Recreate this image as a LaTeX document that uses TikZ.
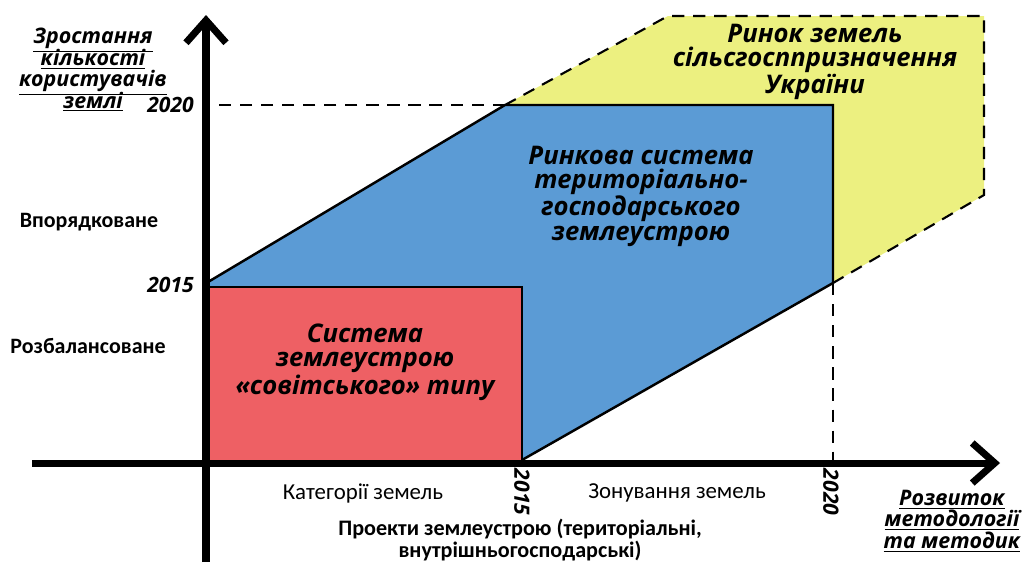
\documentclass[tikz,border=0pt]{standalone}
\usepackage{fontspec}
\setmainfont{Carlito}
\newfontfamily\itb{Open Sans}
\usetikzlibrary{arrows.meta}
\definecolor{fillR}{RGB}{238, 96, 100}
\definecolor{fillB}{RGB}{91, 155, 213}
\definecolor{fillY}{RGB}{236, 240, 128}
\newcommand\tightlines{\setlength{\lineskiplimit}{-20pt}}

\tikzset{
  axis/.style={line width=4pt, -{Straight Barb[length=4.5mm, width=8mm]}},
  edge/.style={line width=1.4pt},
  guide/.style={line width=1.2pt, dash pattern=on 7pt off 5pt},
  big/.style={font=\itb\fontsize{14.6}{13.8}\selectfont\bfseries\itshape, align=center},
  year/.style={font=\itb\fontsize{12}{12}\selectfont\bfseries\itshape},
  level/.style={font=\fontsize{12.5}{14}\selectfont\bfseries},
  note/.style={font=\fontsize{13}{13.5}\selectfont, align=center},
  title/.style={font=\tightlines\itb\fontsize{12.2}{12.2}\selectfont\bfseries\itshape, align=center}
}

\begin{document}
\begin{tikzpicture}[x=0.02cm, y=-0.02cm]
  \useasboundingbox (0,0) rectangle (1023,562);

  \coordinate (O) at (206,463);
  \coordinate (ytop) at (206,15);
  \coordinate (ybot) at (206,562);
  \coordinate (xleft) at (32,463);
  \coordinate (xright) at (1000,463);

  \coordinate (P) at (208,282);
  \coordinate (Q) at (505,105);
  \coordinate (R) at (833,105);
  \coordinate (S) at (833,283);
  \coordinate (T) at (522,460);
  \coordinate (U) at (668,16);
  \coordinate (V) at (984,16);
  \coordinate (W) at (984,195);
  \coordinate (A) at (208,287);
  \coordinate (B) at (522,287);
  \coordinate (C) at (208,460);

  % market of lands
  \path[fill=fillY] (Q) -- (U) -- (V) -- (W) -- (S) -- (R) -- cycle;
  \draw[guide] (Q) -- (U) -- (V) -- (W) -- (S);

  % market system
  \path[fill=fillB] (P) -- (Q) -- (R) -- (S) -- (T) -- (C) -- cycle;
  \draw[edge] (P) -- (Q) -- (R) -- (S) -- (T);

  % soviet system
  \path[fill=fillR] (A) rectangle (T);
  \draw[edge] (A) -- (B) -- (T);

  \draw[guide] (Q) -- (Q -| O);
  \draw[guide] (S) -- (S |- O);

  \draw[axis] (ybot) -- (ytop);
  \draw[axis] (xleft) -- (xright);

  \node[big] (soviet) at (365,362) {Система\\землеустрою\\«совітського» типу};
  \node[big] (market) at (641,196) {Ринкова система\\територіально-\\господарського\\землеустрою};
  \node[big] (land) at (815,62) {Ринок земель\\сільсгосппризначення\\України};

  \node[year, anchor=east] (y2020) at (200,105) {2020};
  \node[year, anchor=east] (y2015) at (200,285) {2015};
  \node[year, rotate=-90] (x2015) at (522,492) {2015};
  \node[year, rotate=-90] (x2020) at (831,492) {2020};

  \node[level] (order) at (89,222) {Впорядковане};
  \node[level] (chaos) at (88,346) {Розбалансоване};

  \node[note] (cat) at (363,493) {Категорії земель};
  \node[note] (zone) at (677,493) {Зонування земель};
  \node[note, font=\fontsize{12.6}{12.6}\selectfont\bfseries] (proj) at (520,540) {Проекти землеустрою (територіальні,\\внутрішньогосподарські)};

  \node[title] (ylab) at (93,70) {\underline{Зростання}\\\underline{кількості}\\\underline{користувачів}\\\underline{землі}};
  \node[title] (xlab) at (952,521) {\underline{Розвиток}\\\underline{методології}\\\underline{та методик}};
\end{tikzpicture}
\end{document}
